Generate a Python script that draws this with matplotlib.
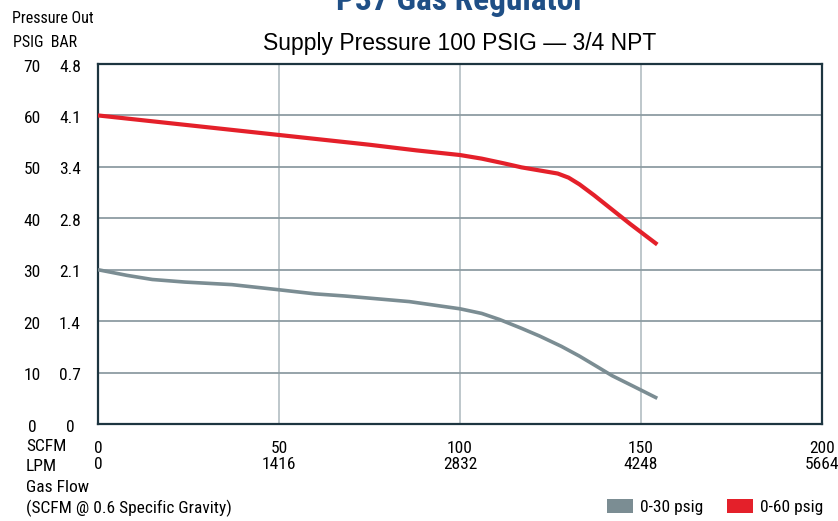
import matplotlib
matplotlib.use("Agg")
import matplotlib.pyplot as plt
from matplotlib import font_manager
from matplotlib.patches import Patch
from matplotlib.transforms import blended_transform_factory

# ---------------- data ----------------
red_flow = [0, 25, 50, 75, 88, 100, 106, 112, 117, 122, 127, 130, 133, 137, 142, 147, 154.5]
red_psig = [60, 58.1, 56.2, 54.3, 53.2, 52.3, 51.6, 50.7, 49.9, 49.3, 48.7, 47.9, 46.6, 44.5, 41.7, 38.9, 34.9]

gray_flow = [0, 8, 15, 24, 37, 50, 60, 68, 86, 100, 106, 111, 117, 122, 128, 133, 138, 142, 148, 154.5]
gray_psig = [30, 28.9, 28.1, 27.6, 27.1, 26.1, 25.3, 24.9, 23.8, 22.4, 21.5, 20.3, 18.6, 17.1, 15.1, 13.2, 11.1, 9.4, 7.3, 5.0]

scfm_ticks = [0, 50, 100, 150, 200]
lpm_labels = ["0", "1416", "2832", "4248", "5664"]
psig_ticks = [0, 10, 20, 30, 40, 50, 60, 70]
bar_labels = ["0", "0.7", "1.4", "2.1", "2.8", "3.4", "4.1", "4.8"]

series_names = ["0-30 psig", "0-60 psig"]
series_colors = ["#7b8d93", "#e4202a"]


def pick(fams):
    for f in fams:
        try:
            font_manager.findfont(font_manager.FontProperties(family=f), fallback_to_default=False)
            return f
        except Exception:
            continue
    return "DejaVu Sans"


NARROW = pick(["Liberation Sans Narrow", "Roboto Condensed", "Liberation Sans"])
REG = pick(["Liberation Sans", "Roboto", "DejaVu Sans"])

fig = plt.figure(figsize=(8.38, 5.21), dpi=100)
W, H = 838, 521
ax = fig.add_axes([98 / W, 1 - 424 / H, (822 - 98) / W, (424 - 64) / H])

ax.plot(gray_flow, gray_psig, color=series_colors[0], lw=2.6, solid_capstyle="butt",
        solid_joinstyle="round", zorder=3)
ax.plot(red_flow, red_psig, color=series_colors[1], lw=3.0, solid_capstyle="butt",
        solid_joinstyle="round", zorder=4)

ax.set_xlim(0, 200)
ax.set_ylim(0, 70)

# grid
for x in scfm_ticks[1:-1]:
    ax.axvline(x, color="#b9c3c7", lw=1.3, zorder=1)
for y in psig_ticks[1:-1]:
    ax.axhline(y, color="#8d9ca2", lw=1.3, zorder=1)

for s in ax.spines.values():
    s.set_color("#1d3540")
    s.set_linewidth(1.6)

ax.tick_params(length=0)
ax.set_xticks(scfm_ticks)
ax.set_xticklabels([f"{s}\n{l}" for s, l in zip(scfm_ticks, lpm_labels)],
                   fontfamily=NARROW, fontsize=12.5, linespacing=1.15)
ax.tick_params(axis="x", pad=12)
ax.set_yticks(psig_ticks)
ax.set_yticklabels([])

trans = blended_transform_factory(fig.transFigure, ax.transData)
for v, b in zip(psig_ticks, bar_labels):
    ax.text(32 / W, v - 0.6, str(v), transform=trans, ha="center", va="center",
            fontfamily=NARROW, fontsize=12.5, color="black", clip_on=False)
    ax.text(70 / W, v - 0.6, b, transform=trans, ha="center", va="center",
            fontfamily=NARROW, fontsize=12.5, color="black", clip_on=False)

# header texts
fig.text(460 / W, 1 - 10 / H, "P37 Gas Regulator", ha="center", va="baseline",
         fontfamily=NARROW, fontweight="bold", fontsize=24, color="#1f4f86")
fig.text(460 / W, 1 - 50 / H, "Supply Pressure 100 PSIG \u2014 3/4 NPT", ha="center", va="baseline",
         fontfamily=REG, fontsize=16.5, color="black")
fig.text(12 / W, 1 - 23 / H, "Pressure Out", ha="left", va="baseline",
         fontfamily=NARROW, fontsize=11.5, color="black")
fig.text(13 / W, 1 - 47 / H, "PSIG  BAR", ha="left", va="baseline",
         fontfamily=NARROW, fontsize=11.5, color="black")

# bottom-left texts
for txt, yb in [("SCFM", 451), ("LPM", 471), ("Gas Flow", 492), ("(SCFM @ 0.6 Specific Gravity)", 513)]:
    fig.text(26 / W, 1 - yb / H, txt, ha="left", va="baseline",
             fontfamily=NARROW, fontsize=12.5, color="black")

handles = [Patch(facecolor=c, edgecolor="none") for c in series_colors]
fig.legend(handles, series_names, loc="center right", bbox_to_anchor=(823 / W, 1 - 507 / H),
           ncol=2, frameon=False, prop={"family": NARROW, "size": 12.5},
           handlelength=1.5, handleheight=0.85, handletextpad=0.4, columnspacing=1.35,
           borderpad=0, borderaxespad=0)

fig.savefig("out.png", dpi=100)
